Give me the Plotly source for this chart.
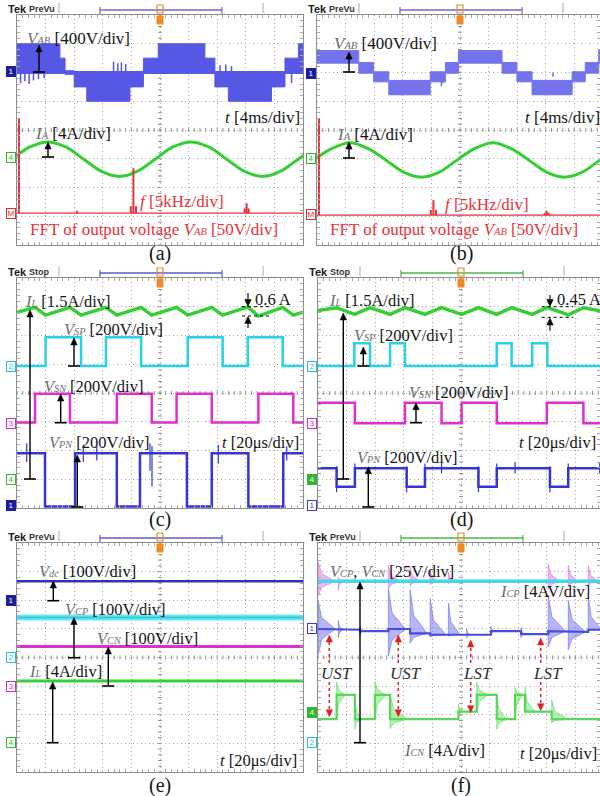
import plotly.graph_objects as go

W, H = 600, 796
DIV = 28.6  # px per horizontal division

# ======================= DATA =======================
# ---- (a) time axis in ms (4 ms/div), FFT axis in kHz (5 kHz/div)
a_vab_edges_ms = [0, 6.0, 6.72, 8.0, 9.76, 15.8, 17.68, 19.76, 26.28, 27.68, 29.56, 35.6, 37.48, 39.36, 40.0]
a_vab_hi_v = [400, 200, 25, 0, 0, 0, 200, 400, 200, 0, 0, 0, 200, 400]
a_vab_lo_v = [0, 0, -25, -200, -400, -200, 0, 0, 0, -200, -400, -200, 0, 0]
a_vab_spike_ms = [0.5, 1.1, 1.7, 2.3, 3.0, 3.8, 13.5, 14.1, 14.6, 15.2, 28.4, 29.2, 30.0, 38.4]
a_vab_spike_v = [-150, -120, -160, -110, -90, -80, 150, 130, 140, 120, 100, 110, 90, -150]
a_ia_ms = [-0.68, 1.82, 4.32, 6.82, 9.32, 11.82, 14.32, 16.82, 19.32, 21.82, 24.32, 26.82, 29.32, 31.82, 34.32, 36.82, 39.32, 41.82]
a_ia_a = [-0.3, 1.4, 2.1, 1.4, -0.3, -2.0, -2.7, -2.0, -0.3, 1.4, 2.1, 1.4, -0.3, -2.0, -2.7, -2.0, -0.3, 1.4]
a_fft_khz = [0.35, 10.5, 19.9, 20.35, 20.8, 39.8, 40.15, 40.5]
a_fft_v = [165, 4, 12, 78, 12, 8, 17, 8]

# ---- (b)
b_vab_edges_ms = [0, 5.84, 7.92, 10.04, 15.84, 17.96, 19.8, 25.88, 27.96, 30.08, 35.68, 37.52, 39.4, 40.0]
b_vab_hi_v = [305, 140, 10, -110, 10, 140, 305, 140, 10, -110, 10, 140, 305]
b_vab_lo_v = [130, -10, -130, -310, -130, -10, 130, -10, -130, -310, -130, -10, 130]
b_vab_spike_ms = [17.4, 17.6, 33.0]
b_vab_spike_v = [-190, -150, -60]
b_ia_ms = [-0.4, 2.1, 4.6, 7.1, 9.6, 12.1, 14.6, 17.1, 19.6, 22.1, 24.6, 27.1, 29.6, 32.1, 34.6, 37.1, 39.6, 42.1]
b_ia_a = [-0.2, 1.4, 2.2, 1.4, -0.2, -1.9, -2.6, -1.9, -0.2, 1.4, 2.2, 1.4, -0.2, -1.9, -2.6, -1.9, -0.2, 1.4]
b_fft_khz = [0.35, 19.9, 20.35, 20.8, 39.8, 40.15, 40.5]
b_fft_v = [169, 9, 26, 9, 4, 7.5, 4]

# ---- (c) time in us (20 us/div)
c_vsp_edges_us = [0, 20.0, 44.8, 62.2, 86.8, 119.4, 143.8, 161.4, 185.8, 200]
c_vsp_v = [0, 200, 0, 200, 0, 200, 0, 200, 0]
c_vsn_edges_us = [0, 12.6, 37.0, 69.8, 94.2, 111.6, 136.2, 168.8, 193.2, 200]
c_vsn_v = [0, 200, 0, 200, 0, 200, 0, 200, 0]
c_vpn_edges_us = [0, 19.6, 40.6, 69.8, 86.0, 118.8, 136.2, 161.8, 186.2, 200]
c_vpn_v = [370, 0, 370, 0, 370, 0, 370, 0, 370]
c_vpn_spk_us = [6.8, 46.4, 55.8, 93.0, 94.4, 140.8, 188.6]
c_vpn_spk_lo = [310, 310, 320, 250, 140, 300, 320]
c_vpn_spk_hi = [440, 430, 420, 440, 420, 430, 420]
c_il_us = [0, 12.6, 20.0, 37.0, 44.8, 62.2, 69.8, 86.8, 94.2, 111.6, 119.4, 136.2, 143.8, 161.4, 168.8, 185.8, 193.2, 200]
c_il_a = [8.7, 8.95, 8.55, 8.95, 8.55, 8.95, 8.55, 8.95, 8.55, 8.95, 8.55, 8.95, 8.55, 8.98, 8.5, 8.95, 8.55, 8.7]

# ---- (d)
d_vsp_edges_us = [0, 25.4, 36.4, 50.4, 60.8, 125.0, 135.4, 149.8, 160.4, 200]
d_vsp_v = [0, 158, 0, 158, 0, 158, 0, 158, 0]
d_vsn_edges_us = [0, 25.8, 60.8, 86.4, 100.4, 125.0, 160.0, 185.6, 200]
d_vsn_v = [142, 0, 142, 0, 142, 0, 142, 0]
d_vpn_edges_us = [0, 13.0, 25.8, 62.0, 74.8, 112.2, 125.0, 162.2, 175.0, 200]
d_vpn_v = [266, 138, 266, 138, 266, 138, 266, 138, 266]
d_vpn_spk_us = [13.0, 25.8, 62.0, 74.8, 86.4, 112.2, 125.0, 137.8, 162.2, 175.0, 197.0]
d_vpn_spk_lo = [100, 230, 100, 230, 230, 100, 230, 230, 100, 230, 230]
d_vpn_spk_hi = [280, 300, 280, 300, 310, 280, 300, 310, 280, 300, 310]
d_il_us = [0, 13.0, 25.6, 36.4, 50.4, 60.8, 74.8, 86.4, 100.4, 112.2, 125.0, 135.4, 149.8, 160.2, 175.0, 185.6, 200]
d_il_a = [8.8, 8.95, 8.6, 8.95, 8.6, 8.95, 8.6, 8.95, 8.6, 8.95, 8.6, 8.95, 8.6, 8.97, 8.58, 8.95, 8.75]

# ---- (e)
e_t_us = [0, 200]
e_vdc_v = [68, 68]
e_vcp_v = [140, 140]
e_vcn_v = [139, 139]
e_il_a = [8.6, 8.6]

# ---- (f)
f_vc_t_us = [0, 200]
f_vc_v = [141, 141]
f_icp_edges_us = [0, 14.2, 29.4, 49.2, 64.4, 78.4, 91.2, 104.0, 121.0, 142.0, 161.0, 175.0, 189.0, 200]
f_icp_a = [-0.1, -0.2, -0.4, -0.1, -0.7, -0.9, -0.85, -0.9, -0.4, -0.8, -0.4, -0.5, -0.2]
f_icp_burst_us = [0, 14.2, 29.4, 49.2, 64.4, 78.4, 91.2, 104.0, 121.0, 142.0, 161.0, 175.0, 189.0]
f_icp_burst_top = [3.9, 1.1, 0.3, 5.5, 5.4, 4.2, 3.5, -0.1, 0.3, 0.1, 4.6, 3.9, 4.4]
f_icp_burst_bot = [-3.7, -1.3, -1.1, -3.9, -2.1, -1.2, -1.1, -1.3, -0.9, -1.3, -2.6, -3.0, -0.3]
f_icp_burst_len = [12, 3, 2, 12, 12, 11, 8, 2, 2, 2, 12, 12, 9]
f_vcn_burst_us = [0, 14.2, 49.2, 64.4, 78.4, 91.2, 161.0, 175.0, 189.0]
f_vcn_burst_top = [158, 145, 155, 153, 150, 149, 156, 155, 155]
f_vcn_burst_bot = [128, 133, 134, 137, 138, 139, 134, 136, 137]
f_vcn_burst_len = [12, 3, 8, 7, 6, 5, 8, 7, 7]
f_icn_edges_us = [0, 13.0, 25.8, 39.8, 50.4, 98.2, 111.0, 125.0, 137.8, 144.8, 163.4, 200]
f_icn_a = [-0.9, 2.5, -0.9, 2.5, -0.9, 0.15, 2.5, -0.9, 2.5, 0.15, -0.9]
f_icn_burst_us = [13.0, 25.8, 39.8, 50.4, 98.2, 111.0, 125.0, 137.8, 144.8, 163.4]
f_icn_burst_top = [4.3, 2.5, 4.4, 2.5, 1.2, 4.3, 2.5, 3.5, 3.6, 1.8]
f_icn_burst_bot = [-0.9, -2.3, -0.9, -2.2, -0.9, 0.15, -2.3, -0.9, 0.15, -1.4]
f_icn_burst_len = [6, 4, 8, 12, 3, 8, 7, 5, 7, 11]

# ======================= LAYOUT / STYLE =======================
PANELS = {  # x0, x1, top, bottom  (page pixels)
    'a': (17, 303, 15, 245), 'b': (317, 600, 15, 245),
    'c': (17, 303, 278, 508), 'd': (318, 600, 278, 508),
    'e': (17, 303, 543, 772), 'f': (318, 600, 543, 772),
}
ORDER = ['a', 'b', 'c', 'd', 'e', 'f']
IDX = {k: i + 1 for i, k in enumerate(ORDER)}

BLUE_A = '#5757e6'
BLUE_B = '#7373ee'
BLUE_D = '#3535d6'
GREEN = '#35cf35'
RED = '#e8323c'
CYAN = '#25d2e6'
MAG = '#df2fd0'
GRAYTXT = '#6e6e6e'
SERIF = 'Liberation Serif'

fig = go.Figure()


def ax_names(k):
    i = IDX[k]
    return ('x' if i == 1 else f'x{i}'), ('y' if i == 1 else f'y{i}')


for k in ORDER:
    x0, x1, top, bot = PANELS[k]
    i = IDX[k]
    xk = 'xaxis' if i == 1 else f'xaxis{i}'
    yk = 'yaxis' if i == 1 else f'yaxis{i}'
    xn, yn = ax_names(k)
    common = dict(showgrid=True, gridcolor='#a8a8a8', griddash='1px,3px', gridwidth=1,
                  zeroline=False, showline=True, linecolor='#8e8e8e', linewidth=1,
                  mirror='ticks', ticks='', showticklabels=False, fixedrange=True,
                  minor=dict(dtick=0.2, ticks='inside', ticklen=3, tickcolor='#a8a8a8',
                             tickwidth=1, showgrid=False))
    fig.update_layout({
        xk: dict(domain=[x0 / W, x1 / W], range=[0, (x1 - x0) / DIV], dtick=1, tick0=0,
                 anchor=yn, **common),
        yk: dict(domain=[1 - bot / H, 1 - top / H], range=[-4, 4], dtick=1, tick0=0,
                 anchor=xn, **common),
    })
    # ticks on the centre cross
    path = ''
    w_div = (x1 - x0) / DIV
    t = 0.0
    while t <= w_div + 1e-6:
        path += f'M{t:.3f},-0.07 L{t:.3f},0.07 '
        t += 0.2
    t = -4.0
    while t <= 4.0 + 1e-6:
        path += f'M4.93,{t:.3f} L5.07,{t:.3f} '
        t += 0.2
    fig.add_shape(type='path', path=path, xref=xn, yref=yn,
                  line=dict(color='#909090', width=1), layer='below')


def add(k, xs, ys, **kw):
    xn, yn = ax_names(k)
    fig.add_trace(go.Scatter(x=xs, y=ys, xaxis=xn, yaxis=yn, mode='lines',
                             hoverinfo='skip', showlegend=False, **kw))


def tx(ts, per_div):
    return [None if t is None else t / per_div for t in ts]


def vy(vs, gnd, per_div):
    return [None if v is None else gnd + v / per_div for v in vs]


def steps(edges, vals):
    xs, ys = [], []
    for j, v in enumerate(vals):
        xs += [edges[j], edges[j + 1]]
        ys += [v, v]
    return xs, ys


def band(edges, hi, lo):
    xu, yu = steps(edges, hi)
    xl, yl = steps(edges, lo)
    return xu + xl[::-1] + [xu[0]], yu + yl[::-1] + [yu[0]]


def sticks(ts, base, vals):
    xs, ys = [], []
    for t, v in zip(ts, vals):
        xs += [t, t, None]
        ys += [base, v, None]
    return xs, ys


def ranges(ts, los, his):
    xs, ys = [], []
    for t, lo, hi in zip(ts, los, his):
        xs += [t, t, None]
        ys += [lo, hi, None]
    return xs, ys


def level_at(edges, vals, t):
    for j in range(len(vals)):
        if edges[j] <= t + 1e-9 < edges[j + 1]:
            return vals[j]
    return vals[-1]


def fans(t0s, tops, bots, lens, levels):
    xs, ys = [], []
    for t0, tp, bt, ln, lv in zip(t0s, tops, bots, lens, levels):
        xs += [t0, t0 + 0.22 * ln, t0 + ln, t0 + 0.22 * ln, t0, t0, None]
        ys += [tp, lv + 0.4 * (tp - lv), lv, lv - 0.4 * (lv - bt), bt, tp, None]
    return xs, ys


# ---------------- panel (a) ----------------
g_vab, s_vab = 2.0, 400
xs, ys = band(a_vab_edges_ms, a_vab_hi_v, a_vab_lo_v)
add('a', tx(xs, 4), vy(ys, g_vab, s_vab), fill='toself', fillcolor=BLUE_A, line=dict(color=BLUE_A, width=1))
add('a', tx([0, 40], 4), vy([0, 0], g_vab, s_vab), line=dict(color=BLUE_A, width=3))
xs, ys = sticks(a_vab_spike_ms, 0, a_vab_spike_v)
add('a', tx(xs, 4), vy(ys, g_vab, s_vab), line=dict(color=BLUE_A, width=1.5))
add('a', tx(a_ia_ms, 4), vy(a_ia_a, -0.94, 4), line=dict(color=GREEN, width=3, shape='spline', smoothing=1.0))
add('a', tx([0, 50], 5), vy([0, 0], -2.89, 50), line=dict(color=RED, width=1.2))
xs, ys = sticks(a_fft_khz, 0, a_fft_v)
add('a', tx(xs, 5), vy(ys, -2.89, 50), line=dict(color=RED, width=2))

# ---------------- panel (b) ----------------
xs, ys = band(b_vab_edges_ms, b_vab_hi_v, b_vab_lo_v)
add('b', tx(xs, 4), vy(ys, 2.0, 400), fill='toself', fillcolor=BLUE_B, line=dict(color=BLUE_B, width=1))
xs, ys = sticks(b_vab_spike_ms, 0, b_vab_spike_v)
add('b', tx(xs, 4), vy(ys, 2.0, 400), line=dict(color=BLUE_B, width=1.5))
add('b', tx(b_ia_ms, 4), vy(b_ia_a, -0.99, 4), line=dict(color=GREEN, width=3, shape='spline', smoothing=1.0))
add('b', tx([0, 50], 5), vy([0, 0], -2.96, 50), line=dict(color=RED, width=1.2))
xs, ys = sticks(b_fft_khz, 0, b_fft_v)
add('b', tx(xs, 5), vy(ys, -2.96, 50), line=dict(color=RED, width=2))

# ---------------- panel (c) ----------------
xs, ys = steps(c_vsp_edges_us, c_vsp_v)
add('c', tx(xs, 20), vy(ys, 0.94, 200), line=dict(color=CYAN, width=2.5))
xs, ys = steps(c_vsn_edges_us, c_vsn_v)
add('c', tx(xs, 20), vy(ys, -1.03, 200), line=dict(color=MAG, width=2.5))
xs, ys = steps(c_vpn_edges_us, c_vpn_v)
add('c', tx(xs, 20), vy(ys, -3.95, 200), line=dict(color=BLUE_D, width=2.5))
xs, ys = ranges(c_vpn_spk_us, c_vpn_spk_lo, c_vpn_spk_hi)
add('c', tx(xs, 20), vy(ys, -3.95, 200), line=dict(color=BLUE_D, width=1.2))
add('c', tx(c_il_us, 20), vy(c_il_a, -2.99, 1.5), line=dict(color=GREEN, width=3.5))

# ---------------- panel (d) ----------------
xs, ys = steps(d_vsp_edges_us, d_vsp_v)
add('d', tx(xs, 20), vy(ys, 0.94, 200), line=dict(color=CYAN, width=2.5))
xs, ys = steps(d_vsn_edges_us, d_vsn_v)
add('d', tx(xs, 20), vy(ys, -1.05, 200), line=dict(color=MAG, width=2.5))
xs, ys = steps(d_vpn_edges_us, d_vpn_v)
add('d', tx(xs, 20), vy(ys, -3.95, 200), line=dict(color=BLUE_D, width=2.5))
xs, ys = ranges(d_vpn_spk_us, d_vpn_spk_lo, d_vpn_spk_hi)
add('d', tx(xs, 20), vy(ys, -3.95, 200), line=dict(color=BLUE_D, width=1.2))
add('d', tx(d_il_us, 20), vy(d_il_a, -3.0, 1.5), line=dict(color=GREEN, width=3.5))

# ---------------- panel (e) ----------------
add('e', tx(e_t_us, 20), vy(e_vdc_v, 1.98, 100), line=dict(color='#2f2fc4', width=2.5))
add('e', tx(e_t_us, 20), vy(e_vcp_v, 0.0, 100), line=dict(color='rgba(60,215,235,0.7)', width=6))
add('e', tx(e_t_us, 20), vy(e_vcp_v, 0.0, 100), line=dict(color=CYAN, width=2))
add('e', tx(e_t_us, 20), vy(e_vcn_v, -1.01, 100), line=dict(color=MAG, width=3))
add('e', tx(e_t_us, 20), vy(e_il_a, -2.97, 4), line=dict(color=GREEN, width=3))

# ---------------- panel (f) ----------------
g_icp, g_icn, g_vc = 1.02, -1.93, -2.98
lv = [level_at(f_icp_edges_us, f_icp_a, t + 0.01) for t in f_icp_burst_us]
xs, ys = fans(f_icp_burst_us, f_icp_burst_top, f_icp_burst_bot, f_icp_burst_len, lv)
add('f', tx(xs, 20), vy(ys, g_icp, 4), fill='toself', fillcolor='rgba(120,120,240,0.55)',
    line=dict(color='rgba(100,100,235,0.7)', width=0.8))
xs, ys = steps(f_icp_edges_us, f_icp_a)
add('f', tx(xs, 20), vy(ys, g_icp, 4), line=dict(color='#4b4be0', width=2.2))
xs, ys = fans(f_vcn_burst_us, f_vcn_burst_top, f_vcn_burst_bot, f_vcn_burst_len, [141] * len(f_vcn_burst_us))
add('f', tx(xs, 20), vy(ys, g_vc, 25), fill='toself', fillcolor='rgba(230,120,225,0.55)',
    line=dict(color='rgba(225,100,220,0.7)', width=0.8))
add('f', tx(f_vc_t_us, 20), vy(f_vc_v, g_vc, 25), line=dict(color='#3fd8ec', width=3.5))
lv = [level_at(f_icn_edges_us, f_icn_a, t + 0.01) for t in f_icn_burst_us]
xs, ys = fans(f_icn_burst_us, f_icn_burst_top, f_icn_burst_bot, f_icn_burst_len, lv)
add('f', tx(xs, 20), vy(ys, g_icn, 4), fill='toself', fillcolor='rgba(120,225,120,0.55)',
    line=dict(color='rgba(90,215,90,0.7)', width=0.8))
xs, ys = steps(f_icn_edges_us, f_icn_a)
add('f', tx(xs, 20), vy(ys, g_icn, 4), line=dict(color='#58d858', width=2.2))


# ======================= ANNOTATIONS =======================
def PX(px):
    return px / W


def PY(py):
    return 1 - py / H


def txt(px, py, text, size=16.5, color='#151515', anchor='left', family=SERIF):
    fig.add_annotation(x=PX(px), y=PY(py), xref='paper', yref='paper', text=text, showarrow=False,
                       xanchor=anchor, yanchor='middle', font=dict(family=family, size=size, color=color))


def var(v, sub, color=GRAYTXT, size=16.5):
    # italic symbol with a small italic suffix on the same baseline (as in the scope captures)
    return (f"<span style='font-style:italic;color:{color};font-size:{size}px'>{v}</span>"
            f"<span style='font-style:italic;color:{color};font-size:{round(size * 0.62, 1)}px'>{sub}</span>")


def seg(px0, py0, px1, py1, color='black', dash='solid', width=1):
    fig.add_shape(type='line', xref='paper', yref='paper', x0=PX(px0), x1=PX(px1),
                  y0=PY(py0), y1=PY(py1), line=dict(color=color, width=width, dash=dash))


def head(px, py, d, color, size=3.2, length=7):
    # triangle arrow head with its tip at (px, py); d=+1 points up, d=-1 points down
    p = (f'M{PX(px):.5f},{PY(py):.5f} L{PX(px - size):.5f},{PY(py + d * length):.5f} '
         f'L{PX(px + size):.5f},{PY(py + d * length):.5f} Z')
    fig.add_shape(type='path', path=p, xref='paper', yref='paper',
                  line=dict(color=color, width=0.5), fillcolor=color)


def arrow(px, py_tail, py_head, color='black', tick=True, width=1.4, dash='solid'):
    d = 1 if py_tail > py_head else -1
    seg(px, py_tail, px, py_head + d * 5, color=color, width=width, dash=dash)
    head(px, py_head, d, color)
    if tick:
        seg(px - 6, py_tail, px + 6, py_tail, color=color, width=1.6)


def tag(k, py, text, color, filled):
    x0 = PANELS[k][0]
    fig.add_annotation(x=PX(x0 - 1.5), y=PY(py), xref='paper', yref='paper', xanchor='right', yanchor='middle',
                       text=text, showarrow=False,
                       font=dict(size=8, color='white' if filled else color, family='Liberation Sans'),
                       bgcolor=color if filled else 'white', bordercolor=color, borderwidth=1,
                       borderpad=0, width=8, height=9)


def header(k, mode, barcolor):
    x0, x1, top, bot = PANELS[k]
    txt(x0 - 11, top - 6, '<b>Tek</b>', size=11, family='Liberation Sans', color='#222')
    txt(x0 + 10, top - 6, '<b>' + mode + '</b>', size=9, family='Liberation Sans', color='#333')
    seg(x0 + 42, top - 12, x0 + 42, top - 2, color='#aaaaaa')
    seg(x0 + 246, top - 12, x0 + 246, top - 2, color='#aaaaaa')
    seg(x0 + 83, top - 5, x0 + 205, top - 5, color=barcolor, width=1.6)
    seg(x0 + 83, top - 8, x0 + 83, top - 1, color=barcolor, width=1.2)
    seg(x0 + 205, top - 8, x0 + 205, top - 1, color=barcolor, width=1.2)
    cx = x0 + 143
    fig.add_shape(type='rect', xref='paper', yref='paper', x0=PX(cx - 3), x1=PX(cx + 3),
                  y0=PY(top - 2), y1=PY(top - 10),
                  line=dict(color='#f08a24', width=1.2), fillcolor='rgba(0,0,0,0)')
    fig.add_shape(type='rect', xref='paper', yref='paper', x0=PX(cx - 3), x1=PX(cx + 3),
                  y0=PY(top + 9), y1=PY(top + 1),
                  line=dict(color='#f08a24', width=1), fillcolor='#f08a24')


header('a', 'PreVu', '#6a6ad0')
header('b', 'PreVu', '#6a6ad0')
header('c', 'Stop', '#5a5ad8')
header('d', 'Stop', '#4cb84c')
header('e', 'PreVu', '#5a5ad8')
header('f', 'PreVu', '#4cb84c')

# --- (a)
txt(25, 38, var('V', 'AB', size=17) + ' [400V/div]', size=17)
arrow(39, 72, 45)
txt(223, 117, "<i>t</i> [4ms/div]", size=17)
txt(33, 133, var('I', 'A', size=17) + ' [4A/div]', size=17)
arrow(48, 157, 142)
txt(138, 202, "<i>f</i> [5kHz/div]", size=17, color=RED)
txt(28, 230, 'FFT of output voltage ' + var('V', 'AB', RED, 17) + ' [50V/div]', size=17, color=RED)
txt(160, 253, '(a)', size=20, anchor='center')
tag('a', 72, '1', '#1e1e9a', True)
tag('a', 157, '4', '#2eb82e', False)
tag('a', 213, 'M', '#e03030', False)

# --- (b)
txt(332, 43, var('V', 'AB', size=17) + ' [400V/div]', size=17)
arrow(349, 72, 52)
txt(523, 117, "<i>t</i> [4ms/div]", size=17)
txt(335, 134, var('I', 'A', size=17) + ' [4A/div]', size=17)
arrow(349, 158, 142)
txt(443, 204, "<i>f</i> [5kHz/div]", size=17, color=RED)
txt(328, 230, 'FFT of output voltage ' + var('V', 'AB', RED, 17) + ' [50V/div]', size=17, color=RED)
txt(461, 253, '(b)', size=20, anchor='center')
tag('b', 73, '1', '#1e1e9a', True)
tag('b', 158, '4', '#2eb82e', False)
tag('b', 215, 'M', '#e03030', False)

# --- (c)
txt(23, 302, var('I', 'L') + ' [1.5A/div]')
arrow(30, 479, 310)
txt(62, 330, var('V', 'SP') + ' [200V/div]')
arrow(74, 366, 338)
txt(42, 386, var('V', 'SN') + ' [200V/div]')
arrow(60.7, 422.7, 394)
txt(47, 442, var('V', 'PN') + ' [200V/div]')
txt(220, 442, "<i>t</i> [20μs/div]")
arrow(77.3, 507, 455)
txt(253, 299, '0.6 A')
arrow(248, 293, 306.5, tick=False, width=1.1)
seg(242, 306.7, 270, 306.7, dash='dot')
seg(242, 316, 270, 316, dash='dot')
arrow(248, 328, 316.5, tick=False, width=1.1)
txt(160, 519, '(c)', size=20, anchor='center')
tag('c', 366, '2', '#22c4d8', False)
tag('c', 423, '3', '#d030c0', False)
tag('c', 479, '4', '#2eb82e', False)
tag('c', 505, '1', '#1e1e9a', True)

# --- (d)
txt(327, 301, var('I', 'L') + ' [1.5A/div]')
arrow(343.3, 479, 313)
txt(352, 335, var('V', 'SP') + ' [200V/div]')
arrow(363.3, 366, 347)
txt(407, 392, var('V', 'SN') + ' [200V/div]')
arrow(416, 422.7, 402.7)
txt(517, 442, "<i>t</i> [20μs/div]")
txt(355, 457, var('V', 'PN') + ' [200V/div]')
arrow(368.3, 507, 466.7)
txt(555, 299, '0.45 A')
arrow(550, 295, 306.5, tick=False, width=1.1)
seg(541.7, 306.7, 573.3, 306.7, dash='dot')
seg(541.7, 317.3, 573.3, 317.3, dash='dot')
arrow(550, 330.7, 318, tick=False, width=1.1)
txt(461, 519, '(d)', size=20, anchor='center')
tag('d', 366, '2', '#22c4d8', False)
tag('d', 423, '3', '#d030c0', False)
tag('d', 479, '4', '#2eb82e', True)
tag('d', 505, '1', '#3a3ad0', False)

# --- (e)
txt(37, 571, var('V', 'dc') + ' [100V/div]')
arrow(53.3, 600.7, 581)
txt(63, 609, var('V', 'CP') + ' [100V/div]')
arrow(74, 657.7, 617.5)
txt(95, 638, var('V', 'CN') + ' [100V/div]')
arrow(108.3, 686, 647)
txt(27, 671, var('I', 'L') + ' [4A/div]')
arrow(52.7, 742.7, 682)
txt(218, 760, "<i>t</i> [20μs/div]")
txt(160, 785, '(e)', size=20, anchor='center')
tag('e', 600.7, '1', '#1e1e9a', True)
tag('e', 657.7, '2', '#22c4d8', False)
tag('e', 686.7, '3', '#d030c0', False)
tag('e', 742.7, '4', '#2eb82e', False)

# --- (f)
txt(328, 571, var('V', 'CP') + ', ' + var('V', 'CN') + ' [25V/div]')
arrow(360, 742.7, 582)
txt(498, 591, var('I', 'CP') + ' [4AV/div]')
for px, lab, up_head, dn_head in [(329.3, 'UST', 635, 716.7), (398.3, 'UST', 635, 716.7),
                                  (470.7, 'LST', 640, 712.7), (540.7, 'LST', 638, 710.7)]:
    txt(px - 10, 673, '<i>' + lab + '</i>', size=17, color='#333333')
    arrow(px, 663, up_head, color='#e02020', tick=False, width=1.5, dash='dot')
    arrow(px, 682, dn_head, color='#e02020', tick=False, width=1.5, dash='dot')
txt(402, 750, var('I', 'CN') + ' [4A/div]')
txt(518, 753, "<i>t</i> [20μs/div]")
txt(461, 785, '(f)', size=20, anchor='center')
tag('f', 628.3, '1', '#3a3ad0', False)
tag('f', 712.7, '4', '#2eb82e', True)
tag('f', 742.7, '2', '#22c4d8', False)

fig.update_layout(width=W, height=H, margin=dict(l=0, r=0, t=0, b=0),
                  paper_bgcolor='white', plot_bgcolor='white', showlegend=False)
fig.write_html('out.html', include_plotlyjs=True, config={'displayModeBar': False},
               post_script="document.body.style.margin='0px';document.body.style.overflow='hidden';")
